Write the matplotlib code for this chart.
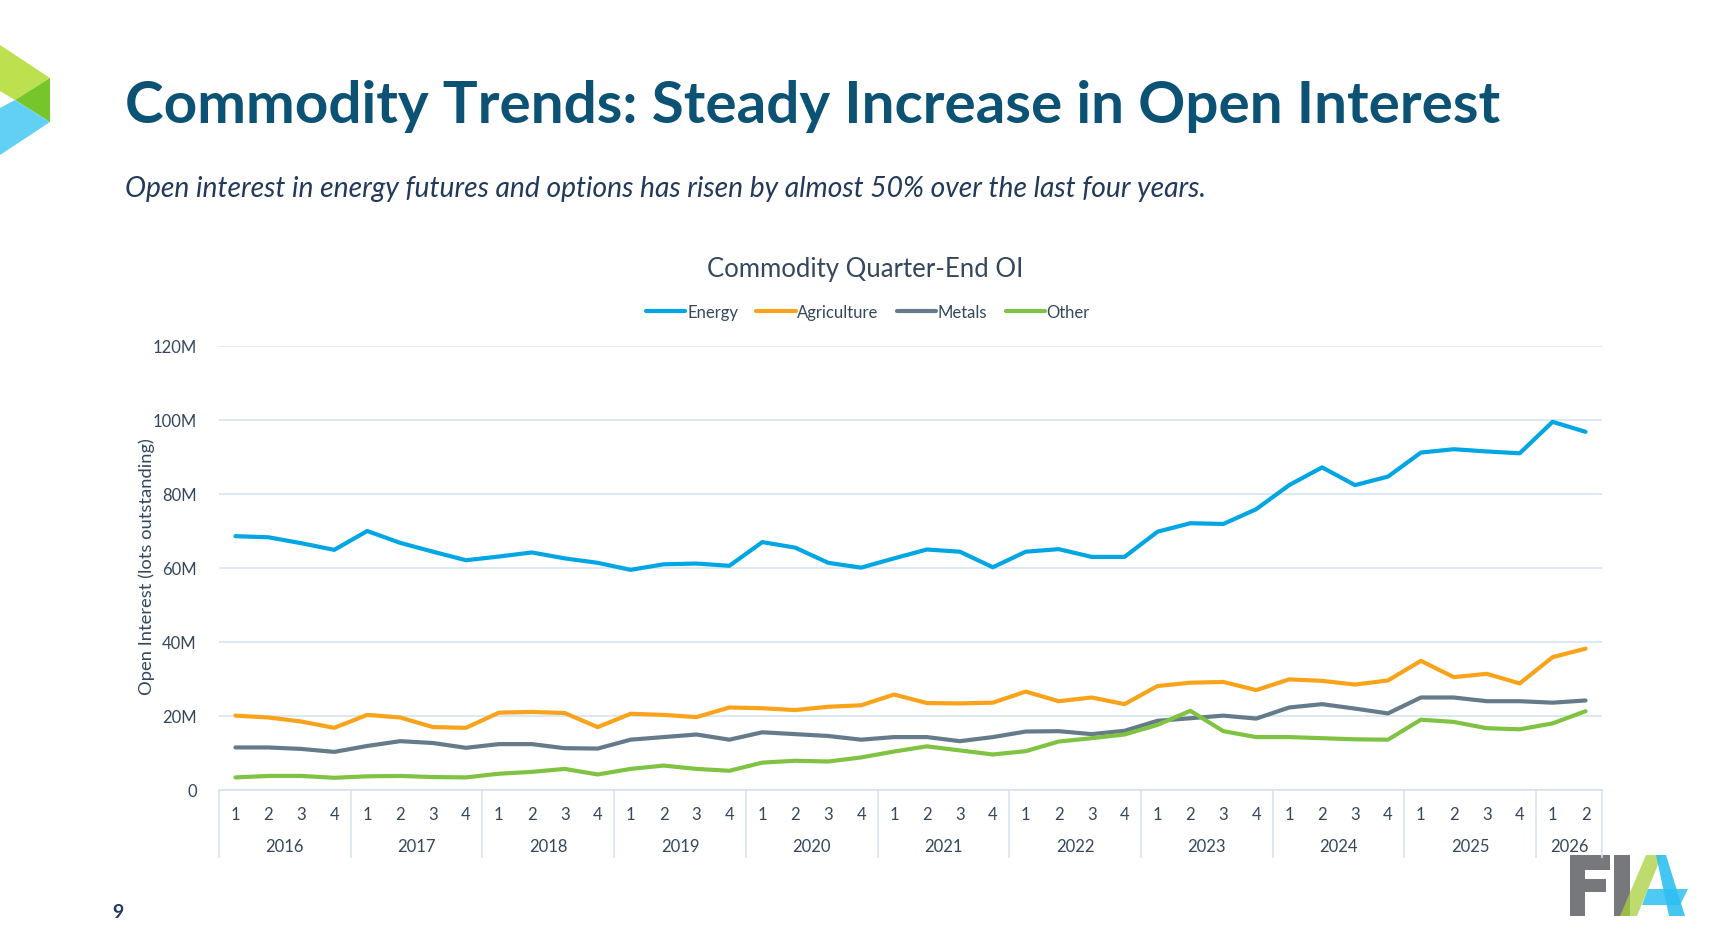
import numpy as np
import matplotlib
matplotlib.use("Agg")
import matplotlib.pyplot as plt
from matplotlib.patches import Polygon
from matplotlib.ticker import FuncFormatter

plt.rcParams["font.family"] = ["Lato", "DejaVu Sans"]

# quarter-end open interest, millions of lots (2016 Q1 .. 2026 Q2)
years = ["2016", "2017", "2018", "2019", "2020", "2021", "2022", "2023", "2024", "2025", "2026"]
quarters_per_year = [4, 4, 4, 4, 4, 4, 4, 4, 4, 4, 2]

energy = [68.6, 68.3, 66.7, 64.9, 70.0, 66.8, 64.4, 62.1, 63.1, 64.2, 62.6, 61.4,
          59.5, 61.0, 61.2, 60.6, 67.0, 65.5, 61.4, 60.1, 62.6, 65.0, 64.4, 60.2,
          64.4, 65.1, 63.0, 63.0, 69.8, 72.1, 71.9, 75.9, 82.4, 87.2, 82.4, 84.7,
          91.2, 92.1, 91.5, 91.0, 99.5, 96.8]
agriculture = [20.1, 19.6, 18.5, 16.8, 20.3, 19.6, 17.0, 16.8, 20.9, 21.1, 20.8, 17.0,
               20.6, 20.3, 19.7, 22.3, 22.1, 21.6, 22.5, 22.9, 25.8, 23.5, 23.4, 23.6,
               26.6, 24.0, 25.0, 23.2, 28.1, 29.0, 29.2, 27.0, 29.9, 29.5, 28.5, 29.6,
               34.9, 30.5, 31.4, 28.8, 35.9, 38.2]
metals = [11.5, 11.5, 11.1, 10.3, 11.9, 13.2, 12.7, 11.4, 12.4, 12.4, 11.3, 11.2,
          13.6, 14.3, 15.0, 13.6, 15.6, 15.1, 14.6, 13.6, 14.3, 14.3, 13.2, 14.3,
          15.8, 15.9, 15.1, 16.0, 18.7, 19.4, 20.1, 19.3, 22.3, 23.2, 22.0, 20.7,
          25.0, 25.0, 24.0, 24.0, 23.6, 24.2]
other = [3.4, 3.8, 3.8, 3.3, 3.7, 3.8, 3.5, 3.4, 4.4, 4.9, 5.7, 4.2,
         5.7, 6.6, 5.7, 5.2, 7.4, 7.9, 7.7, 8.8, 10.4, 11.8, 10.7, 9.6,
         10.5, 13.1, 14.0, 15.0, 17.6, 21.4, 15.9, 14.3, 14.3, 14.0, 13.7, 13.6,
         19.0, 18.4, 16.7, 16.4, 18.0, 21.3]

series = [("Energy", energy, "#00a6e4"),
          ("Agriculture", agriculture, "#f9a31b"),
          ("Metals", metals, "#657b8a"),
          ("Other", other, "#80c342")]

W, H = 1721, 953
TXT = "#34475c"
GRID = "#d6e4f0"

fig = plt.figure(figsize=(W / 100, H / 100), dpi=100)
fig.patch.set_facecolor("white")

# slide decorations (pixel coords)
deco = fig.add_axes([0, 0, 1, 1])
deco.set_xlim(0, W); deco.set_ylim(H, 0); deco.axis("off")
deco.add_patch(Polygon([(0, 46), (50, 79), (15, 101), (0, 92)], color="#bde04f", lw=0))
deco.add_patch(Polygon([(15, 101), (50, 79), (50, 123)], color="#76c62b", lw=0))
deco.add_patch(Polygon([(15, 101), (50, 123), (0, 156), (0, 109)], color="#62cff4", lw=0))
# FIA logo
deco.add_patch(Polygon([(1570, 856), (1610, 856), (1610, 871), (1585, 871), (1585, 880),
                        (1606, 880), (1606, 893), (1585, 893), (1585, 917), (1570, 917)],
                       color="#76787c", lw=0))
deco.add_patch(Polygon([(1614, 856), (1630, 856), (1630, 917), (1614, 917)], color="#76787c", lw=0))
deco.add_patch(Polygon([(1646, 856), (1662, 856), (1637, 917), (1620, 917)], color="#a8d13c", alpha=0.75, lw=0))
deco.add_patch(Polygon([(1656, 856), (1666, 856), (1685, 917), (1669, 917)], color="#2fc0f2", alpha=0.9, lw=0))
deco.add_patch(Polygon([(1648, 890), (1688, 890), (1680, 906), (1642, 906)], color="#2fc0f2", alpha=0.85, lw=0))

fig.text(125 / W, 1 - 123 / H, "Commodity Trends: Steady Increase in Open Interest",
         fontsize=42, fontweight="bold", color="#0b5274", va="baseline")
fig.text(125 / W, 1 - 197 / H,
         "Open interest in energy futures and options has risen by almost 50% over the last four years.",
         fontsize=20.3, style="italic", color="#22395a", va="baseline")
fig.text(118 / W, 1 - 913 / H, "9", fontsize=14, fontweight="bold", color="#22395a",
         ha="center", va="center")

fig.text(865 / W, 1 - 269 / H, "Commodity Quarter-End OI", fontsize=18.5, color=TXT,
         ha="center", va="center")
fig.text(147 / W, 1 - 567 / H, "Open Interest (lots outstanding)", fontsize=13.2,
         color=TXT, rotation=90, ha="center", va="center")

ax = fig.add_axes([219 / W, 1 - 791 / H, (1602 - 219) / W, (791 - 347) / H])
x = np.arange(len(energy))
for name, vals, col in series:
    ax.plot(x, np.array(vals) * 1e6, color=col, lw=3, label=name,
            solid_joinstyle="round", solid_capstyle="round", zorder=3)

ax.set_xlim(-0.5, len(energy) - 0.5)
ax.set_ylim(0, 120e6)
ax.set_yticks(np.arange(0, 121e6, 20e6))
ax.yaxis.set_major_formatter(FuncFormatter(lambda v, p: "0" if v == 0 else f"{v / 1e6:.0f}M"))
ax.tick_params(axis="y", length=0, pad=16, labelsize=12, labelcolor=TXT)
ax.set_xticks([])
ax.grid(axis="y", color=GRID, lw=1.2)
ax.set_axisbelow(True)
for s in ["top", "right", "left"]:
    ax.spines[s].set_visible(False)
ax.spines["bottom"].set_color(GRID)
ax.spines["bottom"].set_linewidth(1.2)

# two-level category axis
trans = ax.get_xaxis_transform()
pos = 0
ax.plot([-0.5, -0.5], [0, -0.15], color=GRID, lw=1.2, transform=trans, clip_on=False)
for yr, n in zip(years, quarters_per_year):
    for q in range(n):
        ax.text(pos + q, -0.053, str(q + 1), transform=trans, ha="center", va="center",
                fontsize=12, color=TXT)
    ax.text(pos + (n - 1) / 2, -0.127, yr, transform=trans, ha="center", va="center",
            fontsize=12, color=TXT)
    pos += n
    ax.plot([pos - 0.5, pos - 0.5], [0, -0.15], color=GRID, lw=1.2, transform=trans,
            clip_on=False)

fig.legend(loc="center", bbox_to_anchor=(868 / W, 1 - 313 / H), ncol=4, frameon=False,
           fontsize=12, handlelength=2.35, handletextpad=0.1, columnspacing=1.1,
           labelcolor=TXT)

fig.savefig("out.png", dpi=100)
